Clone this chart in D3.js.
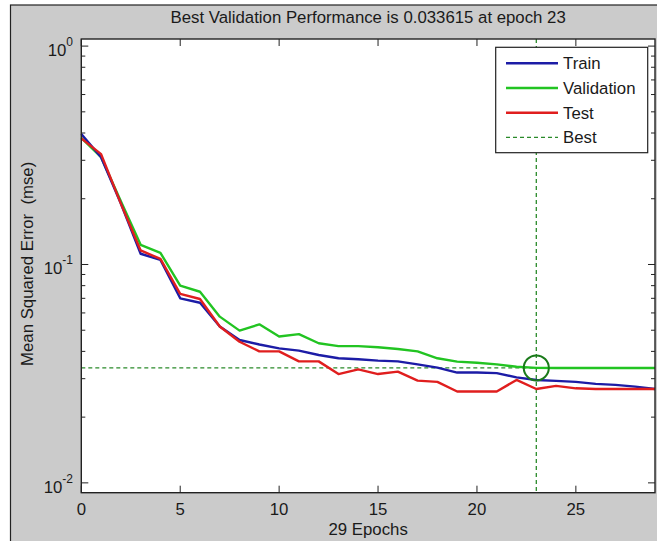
<!DOCTYPE html>
<html lang="en">
<head>
    <meta charset="utf-8">
    <title>Best Validation Performance</title>
    <script src="https://cdn.jsdelivr.net/npm/d3@7"></script>
    <style>
        body { margin: 0; background: #fff; }
        text { font-family: "Liberation Sans", Arial, sans-serif; fill: #1a1a1a; }
    </style>
</head>
<body>
<script>
    // epochs 0..29
    var epochs = d3.range(0, 30);
    var trainPerf = [0.396, 0.31, 0.19, 0.112, 0.105, 0.070, 0.0668, 0.052, 0.0451, 0.043,
                     0.0413, 0.0403, 0.0385, 0.0372, 0.0368, 0.0363, 0.036, 0.0349, 0.0337, 0.032,
                     0.032, 0.0318, 0.0304, 0.0296, 0.0293, 0.029, 0.0284, 0.0281, 0.0276, 0.0269];
    var valPerf   = [0.38, 0.31, 0.195, 0.123, 0.113, 0.080, 0.075, 0.0577, 0.0498, 0.0532,
                     0.0468, 0.048, 0.0436, 0.0423, 0.0423, 0.0418, 0.041, 0.040, 0.0372, 0.0359,
                     0.0355, 0.0349, 0.034, 0.033615, 0.0336, 0.0336, 0.0336, 0.0336, 0.0336, 0.0336];
    var testPerf  = [0.378, 0.32, 0.19, 0.116, 0.106, 0.0733, 0.0695, 0.052, 0.0443, 0.040,
                     0.040, 0.036, 0.036, 0.0315, 0.0331, 0.0315, 0.0323, 0.0294, 0.029, 0.0262,
                     0.0262, 0.0262, 0.0296, 0.0269, 0.0278, 0.0271, 0.0269, 0.0269, 0.0269, 0.0269];
    var bestEpoch = 23;
    var bestPerf = 0.033615;
    var xTicks = [0, 5, 10, 15, 20, 25];
    var yTicks = [-2, -1, 0];
    var legendNames = ["Train", "Validation", "Test", "Best"];

    var w = 657, h = 541;
    var pLeft = 81.3, pRight = 655, pTop = 39, pBottom = 492.7;
    var fs = 16.8;

    var x = d3.scaleLinear().domain([0, 29]).range([pLeft, pRight]);
    var y = d3.scaleLog().domain([Math.pow(10, -2.045), Math.pow(10, 0.0325)]).range([pBottom, pTop]);

    var svg = d3.select("body").append("svg").attr("width", w).attr("height", h);

    // figure background (right and bottom edges run off the picture)
    svg.append("rect").attr("x", 10.5).attr("y", 5).attr("width", w).attr("height", h)
        .attr("fill", "#cbcbcb").attr("stroke", "#222").attr("stroke-width", 1.2);

    // plot area
    svg.append("rect").attr("x", pLeft).attr("y", pTop).attr("width", pRight - pLeft).attr("height", pBottom - pTop)
        .attr("fill", "#fff");

    // ticks (inward, all four sides)
    var tickG = svg.append("g").attr("stroke", "#222").attr("stroke-width", 1);
    xTicks.forEach(function(t) {
        tickG.append("line").attr("x1", x(t)).attr("x2", x(t)).attr("y1", pBottom).attr("y2", pBottom - 7);
        tickG.append("line").attr("x1", x(t)).attr("x2", x(t)).attr("y1", pTop).attr("y2", pTop + 7);
    });
    var minor = [];
    [-3, -2, -1, 0].forEach(function(p) {
        for (var m = 1; m < 10; m++) {
            var v = m * Math.pow(10, p);
            if (v >= y.domain()[0] && v <= y.domain()[1]) minor.push({v: v, major: m === 1});
        }
    });
    minor.forEach(function(d) {
        var len = d.major ? 7 : 4;
        tickG.append("line").attr("x1", pLeft).attr("x2", pLeft + len).attr("y1", y(d.v)).attr("y2", y(d.v));
        tickG.append("line").attr("x1", pRight).attr("x2", pRight - len).attr("y1", y(d.v)).attr("y2", y(d.v));
    });

    // tick labels
    svg.selectAll(".xl").data(xTicks).enter().append("text")
        .attr("x", function(d) { return x(d); }).attr("y", 515)
        .attr("text-anchor", "middle").attr("font-size", fs).text(function(d) { return d; });

    var yl = svg.selectAll(".yl").data(yTicks).enter().append("text")
        .attr("x", 73).attr("y", function(d) { return y(Math.pow(10, d)) + 10; })
        .attr("text-anchor", "end").attr("font-size", fs);
    yl.append("tspan").text("10");
    yl.append("tspan").attr("dy", -10).attr("font-size", 12).text(function(d) { return d; });

    // axis labels and title
    svg.append("text").attr("x", (pLeft + pRight) / 2).attr("y", 23).attr("text-anchor", "middle")
        .attr("font-size", fs).text("Best Validation Performance is 0.033615 at epoch 23");
    svg.append("text").attr("x", (pLeft + pRight) / 2).attr("y", 535).attr("text-anchor", "middle")
        .attr("font-size", fs).text("29 Epochs");
    svg.append("text").attr("transform", "translate(33," + ((pTop + pBottom) / 2 - 2) + ") rotate(-90)")
        .attr("text-anchor", "middle").attr("font-size", fs).attr("xml:space", "preserve")
        .text("Mean Squared Error  (mse)");

    var colors = {train: "#1c1ca6", val: "#22c422", test: "#e01e1e", best: "#2a8a2a"};

    // best lines
    svg.append("line").attr("x1", pLeft).attr("x2", pRight).attr("y1", y(bestPerf)).attr("y2", y(bestPerf))
        .attr("stroke", colors.best).attr("stroke-width", 1.3).attr("stroke-dasharray", "4,3");
    svg.append("line").attr("x1", x(bestEpoch)).attr("x2", x(bestEpoch)).attr("y1", pTop).attr("y2", pBottom)
        .attr("stroke", colors.best).attr("stroke-width", 1.3).attr("stroke-dasharray", "4,3");

    var line = d3.line().x(function(d, i) { return x(epochs[i]); }).y(function(d) { return y(d); });
    [[valPerf, colors.val], [trainPerf, colors.train], [testPerf, colors.test]].forEach(function(s) {
        svg.append("path").datum(s[0]).attr("d", line).attr("fill", "none")
            .attr("stroke", s[1]).attr("stroke-width", 2.4).attr("stroke-linejoin", "round");
    });

    svg.append("circle").attr("cx", x(bestEpoch)).attr("cy", y(bestPerf)).attr("r", 12.5)
        .attr("fill", "none").attr("stroke", "#1a7a1a").attr("stroke-width", 2);

    // plot frame
    svg.append("rect").attr("x", pLeft).attr("y", pTop).attr("width", pRight - pLeft).attr("height", pBottom - pTop)
        .attr("fill", "none").attr("stroke", "#222").attr("stroke-width", 1.4);

    // legend
    var lg = svg.append("g");
    lg.append("rect").attr("x", 495.7).attr("y", 47.3).attr("width", 152).attr("height", 105.4)
        .attr("fill", "#fff").attr("stroke", "#222").attr("stroke-width", 1.2);
    var legColors = [colors.train, colors.val, colors.test, colors.best];
    legendNames.forEach(function(n, i) {
        var yy = 63.3 + i * 24.7;
        lg.append("line").attr("x1", 506).attr("x2", 558).attr("y1", yy).attr("y2", yy)
            .attr("stroke", legColors[i]).attr("stroke-width", i === 3 ? 1.3 : 2.4)
            .attr("stroke-dasharray", i === 3 ? "4,3" : null);
        lg.append("text").attr("x", 563).attr("y", yy + 6).attr("font-size", fs).text(n);
    });
</script>
</body>
</html>
